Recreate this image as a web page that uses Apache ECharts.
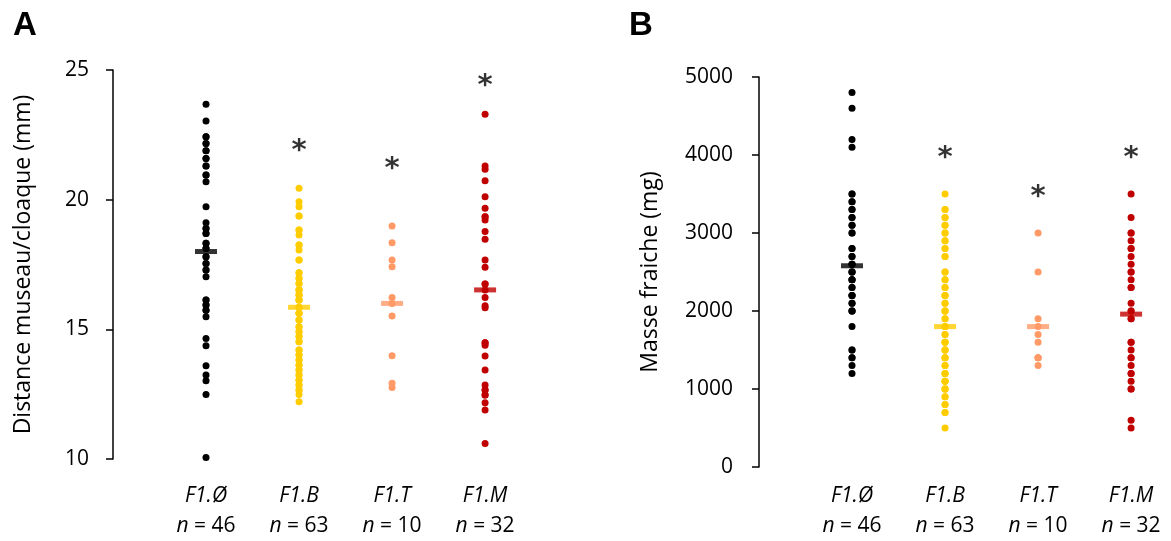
<!DOCTYPE html>
<html><head><meta charset="utf-8">
<script src="https://cdn.jsdelivr.net/npm/echarts@6/dist/echarts.min.js"></script>
<style>html,body{margin:0;padding:0;background:#fff}#c{width:1171px;height:541px}</style>
</head><body><div id="c"></div><script>
// Categories and sample sizes
const categories = ['F1.Ø', 'F1.B', 'F1.T', 'F1.M'];
const counts = [46, 63, 10, 32];
const groupColors = ['#000000', '#FFCC00', '#FF9966', '#C00000'];

// Panel A: snout-vent length (mm)
const svlA_F1_0 = [23.68, 23.03, 22.43, 22.17, 21.89, 21.59, 21.30, 20.95, 20.69, 19.73, 19.11, 18.89, 18.70, 18.32, 18.12, 17.80, 17.54, 17.29, 17.03, 16.13, 15.94, 15.74, 15.49, 14.65, 14.37, 13.60, 13.24, 13.02, 12.49, 10.06,
  22.43, 22.17, 21.89, 21.59, 21.30, 20.95, 18.89, 18.70, 18.32, 18.12, 17.80, 17.54, 17.29, 16.13, 15.94, 15.74];
const svlA_F1_B = [20.44, 19.92, 19.73, 19.37, 18.83, 18.64, 18.25, 18.06, 17.67, 17.18, 16.97, 16.77, 16.52, 16.32, 16.13, 15.62, 15.36, 15.10, 14.91, 14.72, 14.52, 14.20, 14.01, 13.82, 13.62, 13.43, 13.24, 13.04, 12.85, 12.66, 12.49, 12.21,
  17.18, 16.97, 16.77, 16.52, 16.32, 16.13, 15.62, 15.36, 15.10, 14.91, 14.72, 14.52, 14.20, 14.01, 13.82, 13.62, 13.43, 13.24, 13.04, 12.85, 12.66, 15.85, 15.85, 19.37, 18.83, 18.25, 17.67, 16.52, 16.32, 16.13, 15.62];
const svlA_F1_T = [18.98, 18.34, 17.67, 17.41, 16.23, 16.00, 15.51, 13.98, 12.92, 12.76];
const svlA_F1_M = [23.29, 21.30, 21.17, 20.73, 20.11, 19.67, 19.34, 19.22, 18.77, 18.47, 17.67, 17.39, 16.75, 16.23, 15.91, 15.83, 14.48, 14.39, 13.97, 13.43, 12.85, 12.66, 12.47, 12.17, 11.89, 10.60,
  16.52, 19.34, 14.48, 12.66, 12.47, 16.75];
const meansA = [18.0, 15.85, 16.0, 16.52];
const starsA = [null, 21.85, 21.17, 24.37];
const ticksA = {min: 10, max: 25, interval: 5};

// Panel B: fresh mass (mg)
const massB_F1_0 = [4800, 4600, 4200, 4100, 3500, 3400, 3300, 3200, 3100, 3000, 2800, 2700, 2600, 2500, 2400, 2300, 2200, 2100, 2000, 1800, 1500, 1400, 1300, 1200,
  3500, 3400, 3300, 3200, 3100, 3000, 2800, 2700, 2600, 2500, 2400, 2300, 2200, 2100, 2000, 2600, 2500, 2400, 2200, 2000, 1500, 1400];
const massB_F1_B = [3500, 3300, 3200, 3100, 3000, 2900, 2800, 2700, 2500, 2400, 2300, 2200, 2100, 2000, 1900, 1800, 1700, 1600, 1500, 1400, 1300, 1200, 1100, 1000, 900, 800, 700, 500,
  3300, 3200, 3100, 3000, 2900, 2800, 2700, 2500, 2400, 2300, 2200, 2100, 2000, 1900, 1800, 1700, 1600, 1500, 1400, 1300, 1200, 1100, 1000, 900, 800, 700,
  2000, 1800, 1500, 1200, 1000, 2200, 1600, 1400, 1100];
const massB_F1_T = [3000, 2500, 1900, 1800, 1700, 1600, 1400, 1400, 1400, 1300];
const massB_F1_M = [3500, 3200, 3000, 2900, 2800, 2700, 2600, 2500, 2400, 2300, 2100, 2000, 1900, 1600, 1500, 1400, 1300, 1200, 1100, 1000, 600, 500,
  3000, 2800, 2500, 2300, 2000, 1900, 1600, 1400, 1200, 1000];
const meansB = [2580, 1800, 1800, 1960];
const starsB = [null, 3960, 3450, 3960];
const ticksB = {min: 0, max: 5000, interval: 1000};

const FONT = 'Open Sans';
const panels = [
  {groups: [svlA_F1_0, svlA_F1_B, svlA_F1_T, svlA_F1_M], means: meansA, stars: starsA, ticks: ticksA,
   name: 'Distance museau/cloaque (mm)', grid: {left: 113, top: 70, width: 400, bottom: 82}, labelMargin: 22, nameGap: 78, yLabelMargin: 24},
  {groups: [massB_F1_0, massB_F1_B, massB_F1_T, massB_F1_M], means: meansB, stars: starsB, ticks: ticksB,
   name: 'Masse fraiche (mg)', grid: {left: 759, top: 77, width: 400, bottom: 74}, labelMargin: 14, nameGap: 97, yLabelMargin: 26}
];

const grid = [], xAxis = [], yAxis = [], series = [];
panels.forEach((p, pi) => {
  grid.push(p.grid);
  xAxis.push({
    type: 'value', gridIndex: pi, min: 0, max: 4.3, interval: 1,
    axisLine: {show: false}, axisTick: {show: false}, splitLine: {show: false},
    axisLabel: {
      margin: p.labelMargin, fontFamily: FONT, fontSize: 21, color: '#000', lineHeight: 30,
      showMinLabel: false, showMaxLabel: false,
      formatter: v => {
        const i = Math.round(v) - 1;
        if (Math.abs(v - Math.round(v)) > 1e-6 || i < 0 || i > 3) return '';
        return '{c|' + categories[i] + '}\n{n|n} = ' + counts[i];
      },
      rich: {
        c: {fontStyle: 'italic', fontFamily: FONT, fontSize: 21, color: '#000', lineHeight: 30},
        n: {fontStyle: 'italic', fontFamily: FONT, fontSize: 21, color: '#000', lineHeight: 30}
      }
    }
  });
  yAxis.push({
    type: 'value', gridIndex: pi, min: p.ticks.min, max: p.ticks.max, interval: p.ticks.interval,
    name: p.name, nameLocation: 'middle', nameGap: p.nameGap,
    nameTextStyle: {fontFamily: FONT, fontSize: 23, color: '#000'},
    axisLine: {show: true, lineStyle: {color: '#000', width: 1.5}},
    axisTick: {show: true, length: 7, lineStyle: {color: '#000', width: 1.5}},
    splitLine: {show: false},
    axisLabel: {margin: p.yLabelMargin, fontFamily: FONT, fontSize: 21, color: '#000', formatter: v => String(v)}
  });
  p.groups.forEach((vals, g) => {
    series.push({
      type: 'scatter', xAxisIndex: pi, yAxisIndex: pi, symbol: 'circle', symbolSize: 7,
      itemStyle: {color: groupColors[g], opacity: 1}, z: 2, silent: true,
      data: vals.map(v => [g + 1, v])
    });
    series.push({
      type: 'scatter', xAxisIndex: pi, yAxisIndex: pi, symbol: 'rect', symbolSize: [22, 5],
      itemStyle: {color: groupColors[g]}, z: 3, silent: true,
      data: [[g + 1, p.means[g]]]
    });
  });
  series.push({
    type: 'scatter', xAxisIndex: pi, yAxisIndex: pi, symbol: 'circle', symbolSize: 1,
    itemStyle: {color: 'rgba(255,255,255,0)'}, z: 4, silent: true,
    label: {show: true, position: 'inside', formatter: '*', fontFamily: 'DejaVu Sans', fontWeight: 'bold', fontSize: 29, color: '#000000', textBorderWidth: 0},
    data: p.stars.map((s, g) => s == null ? null : [g + 1, s]).filter(d => d)
  });
});

const chart = echarts.init(document.getElementById('c'), null, {renderer: 'canvas'});
chart.setOption({
  animation: false,
  backgroundColor: '#fff',
  grid, xAxis, yAxis, series,
  graphic: [
    {type: 'text', left: 13, top: 9, style: {text: 'A', fontFamily: 'Liberation Sans', fontWeight: 'bold', fontSize: 33, fill: '#000'}},
    {type: 'text', left: 629, top: 9, style: {text: 'B', fontFamily: 'Liberation Sans', fontWeight: 'bold', fontSize: 33, fill: '#000'}}
  ]
});
</script></body></html>
